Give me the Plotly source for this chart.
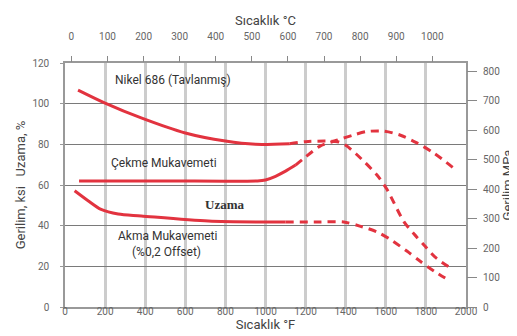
import plotly.graph_objects as go

# ---- data (°F, ksi / %) ----
tensile_solid_f = [65, 200, 380, 600, 800, 950, 1120]
tensile_solid_v = [106.7, 100.3, 93.0, 85.6, 81.6, 80.0, 80.3]
tensile_dash_f = [1120, 1200, 1300, 1360, 1400, 1455, 1555, 1605, 1690, 1740, 1795, 1845, 1930]
tensile_dash_v = [80.3, 81.3, 81.6, 81.3, 79.5, 75.0, 65.0, 58.0, 42.0, 36.0, 30.0, 24.6, 18.7]

elong_solid_f = [70, 500, 960, 1000, 1050, 1100, 1150]
elong_solid_v = [62.0, 62.0, 62.0, 62.5, 64.3, 66.8, 69.8]
elong_dash_f = [1150, 1190, 1270, 1355, 1440, 1505, 1590, 1670, 1755, 1840, 1955]
elong_dash_v = [69.8, 73.0, 79.0, 82.0, 84.6, 86.3, 86.5, 84.6, 80.7, 75.7, 67.0]

yield_solid_f = [48, 115, 180, 265, 380, 715, 1015, 1100]
yield_solid_v = [57.2, 52.3, 48.0, 45.7, 44.8, 42.3, 41.8, 41.8]
yield_dash_f = [1100, 1250, 1390, 1470, 1555, 1620, 1705, 1770, 1840, 1920]
yield_dash_v = [41.8, 41.8, 41.8, 39.8, 37.0, 33.4, 27.5, 22.6, 17.7, 12.8]

f_ticks = [0, 200, 400, 600, 800, 1000, 1200, 1400, 1600, 1800, 2000]
c_ticks = [0, 100, 200, 300, 400, 500, 600, 700, 800, 900, 1000]
ksi_ticks = [0, 20, 40, 60, 80, 100, 120]
mpa_ticks = [0, 100, 200, 300, 400, 500, 600, 700, 800]

labels = [
    ("Nikel 686 (Tavlanmış)", 540, 111.6),
    ("Çekme Mukavemeti", 495, 70.8),
    ("Akma Mukavemeti", 510, 34.9),
    ("(%0,2 Offset)", 505, 27.0),
]
uzama_label = ("Uzama", 795, 50.6)

RED = "#e2333f"
FONT = "Roboto"
KSI_TO_MPA = 6.895

fig = go.Figure()

def add(xs, ys, dash):
    fig.add_trace(go.Scatter(
        x=xs, y=ys, mode="lines",
        line=dict(color=RED, width=3, dash=dash, shape="spline", smoothing=0.8),
        showlegend=False, hoverinfo="skip"))

add(tensile_solid_f, tensile_solid_v, "solid")
add(tensile_dash_f, tensile_dash_v, "8px,6px")
add(elong_solid_f, elong_solid_v, "solid")
add(elong_dash_f, elong_dash_v, "8px,6px")
add(yield_solid_f, yield_solid_v, "solid")
add(yield_dash_f, yield_dash_v, "8px,6px")

# invisible traces to activate secondary axes
fig.add_trace(go.Scatter(x=[0], y=[0], xaxis="x2", yaxis="y",
                         mode="markers", marker=dict(opacity=0), showlegend=False, hoverinfo="skip"))
fig.add_trace(go.Scatter(x=[0], y=[0], xaxis="x", yaxis="y2",
                         mode="markers", marker=dict(opacity=0), showlegend=False, hoverinfo="skip"))

for text, x, y in labels:
    fig.add_annotation(x=x, y=y, xref="x", yref="y", text=text, showarrow=False,
                       font=dict(family=FONT, size=12, color="#333333"))
fig.add_annotation(x=uzama_label[1], y=uzama_label[2], xref="x", yref="y", text="<b>" + uzama_label[0] + "</b>",
                   showarrow=False, font=dict(family="Liberation Serif", size=13, color="#333333"))

tickfont = dict(family=FONT, size=10, color="#666666")
titlefont = dict(family=FONT, size=13, color="#444444")

fig.update_layout(
    width=517, height=336,
    margin=dict(l=57, r=59, t=55, b=37, autoexpand=False),
    plot_bgcolor="white", paper_bgcolor="white",
    xaxis=dict(range=[0, 2000], tickvals=f_ticks, showgrid=True, gridcolor="#cccccc", gridwidth=2.5,
               showline=True, linecolor="#999999", linewidth=1.5, mirror=True,
               ticks="", tickfont=tickfont, ticklabelstandoff=-6,
               title=dict(text="Sıcaklık °F", font=titlefont, standoff=0),
               zeroline=False),
    xaxis2=dict(range=[(0 - 32) / 1.8, (2000 - 32) / 1.8], tickvals=c_ticks, overlaying="x", side="top",
                showgrid=False, showline=False, ticks="outside", ticklen=6, tickcolor="#888888",
                tickwidth=1, tickfont=tickfont, ticklabelstandoff=12,
                title=dict(text="Sıcaklık °C", font=titlefont, standoff=2), zeroline=False),
    yaxis=dict(range=[0, 120], tickvals=ksi_ticks, showgrid=True, gridcolor="#7a7a7a", gridwidth=1,
               showline=True, linecolor="#999999", linewidth=1.5, mirror=True,
               ticks="outside", ticklen=3, tickcolor="#999999", tickfont=tickfont, ticklabelstandoff=9,
               title=dict(text="Gerilim, ksi   Uzama, %", font=titlefont, standoff=4), zeroline=False),
    yaxis2=dict(range=[0, 120 * KSI_TO_MPA], tickvals=mpa_ticks, overlaying="y", side="right",
                showgrid=False, showline=False, ticks="outside", ticklen=10, tickcolor="#888888",
                tickfont=tickfont, ticklabelstandoff=4,
                title=dict(text="Gerilim MPa", font=titlefont, standoff=2), zeroline=False),
)

fig.write_html("out.html")
